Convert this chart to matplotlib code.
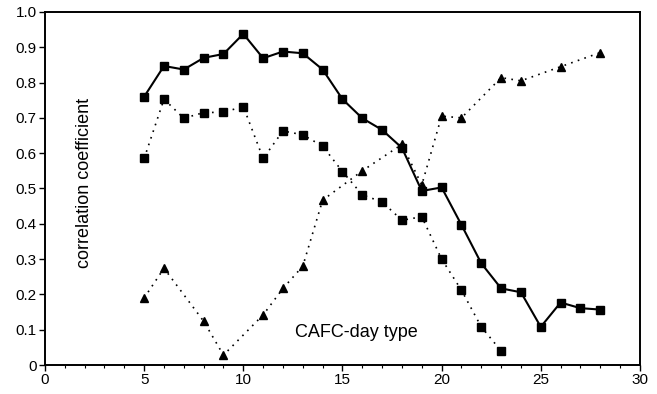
import numpy as np
import matplotlib.pyplot as plt
from matplotlib.ticker import MultipleLocator

plt.rcParams['font.family'] = ['Liberation Sans', 'DejaVu Sans']

# solid line, squares
day_solid = [5, 6, 7, 8, 9, 10, 11, 12, 13, 14, 15, 16, 17, 18, 19, 20, 21, 22, 23, 24, 25, 26, 27, 28]
r_solid = [0.76, 0.847, 0.837, 0.87, 0.881, 0.938, 0.869, 0.888, 0.883, 0.837, 0.753, 0.699,
           0.666, 0.615, 0.493, 0.503, 0.397, 0.288, 0.217, 0.206, 0.108, 0.177, 0.161, 0.157]

# dotted line, squares
day_dsq = [5, 6, 7, 8, 9, 10, 11, 12, 13, 14, 15, 16, 17, 18, 19, 20, 21, 22, 23]
r_dsq = [0.585, 0.753, 0.699, 0.715, 0.716, 0.732, 0.585, 0.663, 0.652, 0.620, 0.548,
         0.482, 0.462, 0.410, 0.420, 0.300, 0.212, 0.108, 0.040]

# dotted line, triangles
day_tri = [5, 6, 8, 9, 11, 12, 13, 14, 16, 18, 19, 20, 21, 23, 24, 26, 28]
r_tri = [0.19, 0.274, 0.124, 0.028, 0.142, 0.217, 0.28, 0.467, 0.55, 0.625, 0.51,
         0.705, 0.70, 0.814, 0.805, 0.845, 0.885]

fig = plt.figure(figsize=(6.57, 3.94), dpi=100)
ax = fig.add_axes([0.0685, 0.0736, 0.9055, 0.896])

ax.plot(day_solid, r_solid, '-', color='black', lw=1.5, marker='s', ms=5.8)
ax.plot(day_dsq, r_dsq, color='black', lw=1.2, ls=(0, (1, 3.2)), marker='s', ms=5.8)
ax.plot(day_tri, r_tri, color='black', lw=1.2, ls=(0, (1, 3.2)), marker='^', ms=6)

ax.set_xlim(0, 30)
ax.set_ylim(0, 1.0)
ax.xaxis.set_major_locator(MultipleLocator(5))
ax.xaxis.set_minor_locator(MultipleLocator(1))
ax.yaxis.set_major_locator(MultipleLocator(0.1))
ax.set_yticklabels(['0' if abs(v) < 1e-9 else '%.1f' % v for v in ax.get_yticks()])

for s in ax.spines.values():
    s.set_linewidth(1.4)
ax.tick_params(axis='both', which='major', direction='out', length=4, width=1, labelsize=11, pad=2)
ax.tick_params(axis='x', which='minor', direction='out', length=2.5, width=0.8)

ax.text(2.0, 0.515, 'correlation coefficient', rotation=90, ha='center', va='center', fontsize=13)
ax.text(12.6, 0.093, 'CAFC-day type', ha='left', va='center', fontsize=13)

fig.savefig('out.png', dpi=100)
